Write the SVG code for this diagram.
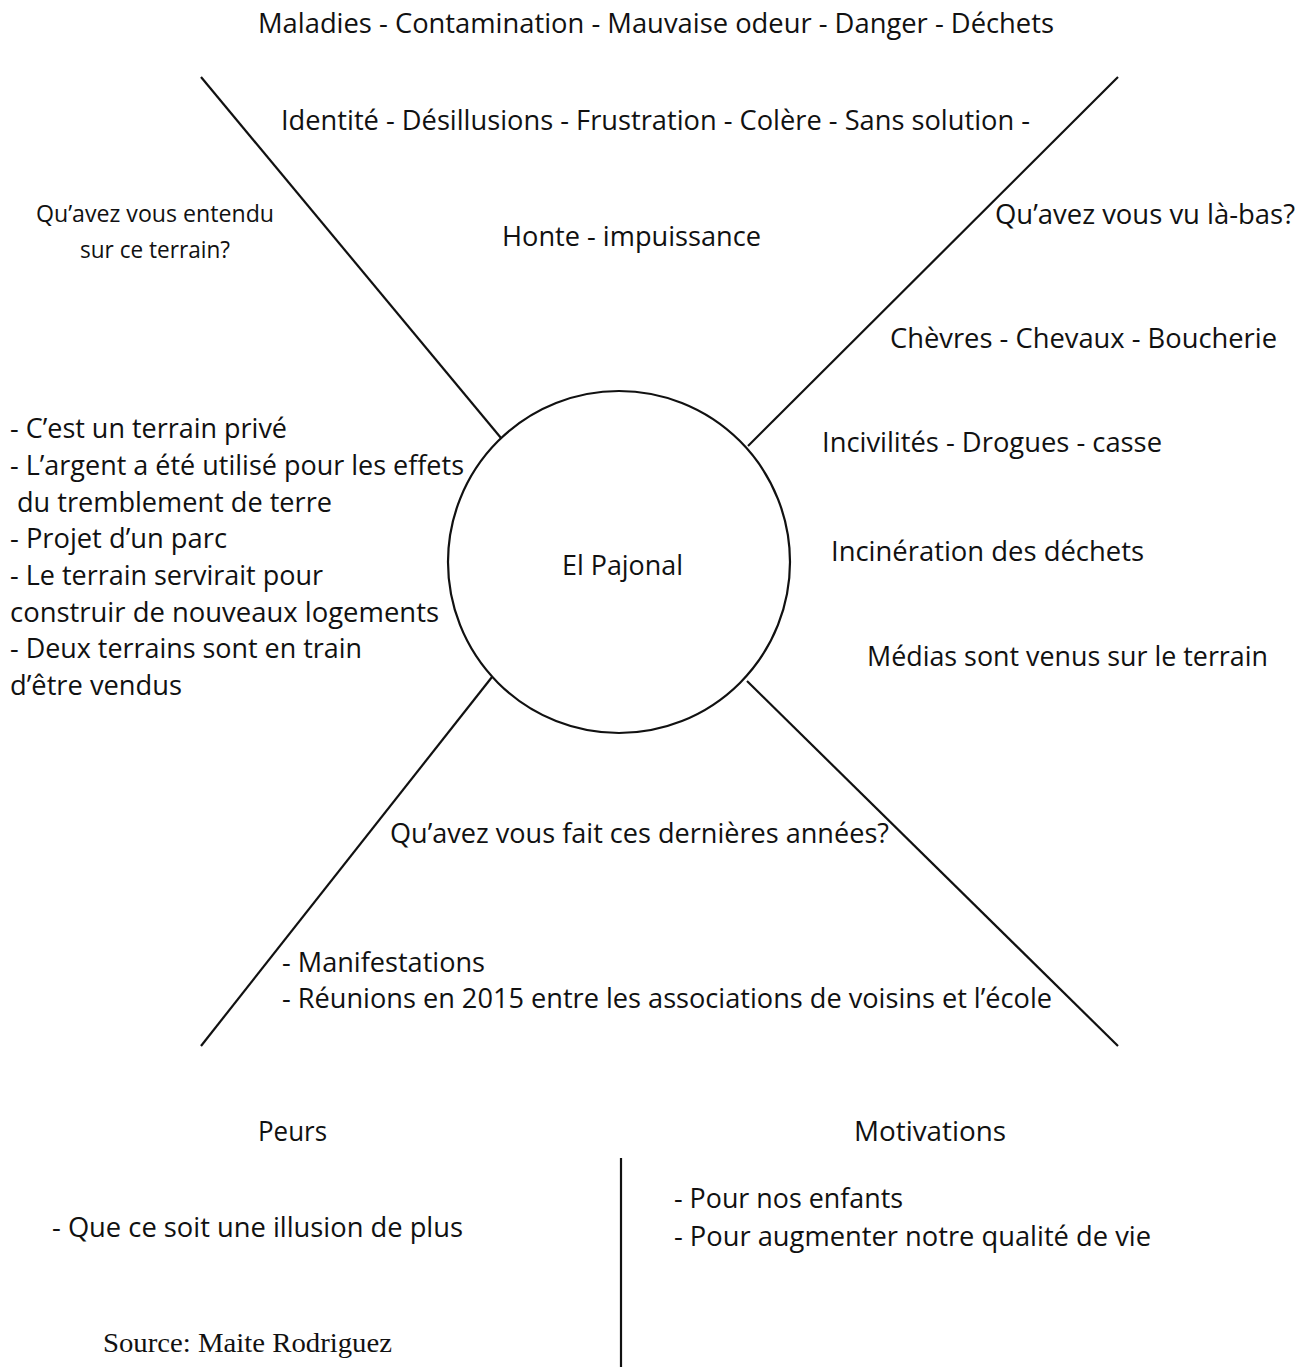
<svg xmlns="http://www.w3.org/2000/svg" width="1306" height="1367" viewBox="0 0 1306 1367">
<style>
.t{font-family:"Open Sans","Noto Sans","Liberation Sans",sans-serif;font-size:27px;fill:#111}
.s{font-size:24px}
.src{font-family:"Liberation Serif","Times New Roman",serif;font-size:27px;fill:#111}
.ln{stroke:#111;stroke-width:2.2;fill:none}
</style>
<rect width="1306" height="1367" fill="#fff"/>
<g id="connectors">
<line class="ln" x1="201" y1="77" x2="501" y2="438"/>
<line class="ln" x1="1118" y1="77" x2="748" y2="446"/>
<line class="ln" x1="201" y1="1046" x2="492" y2="677"/>
<line class="ln" x1="1118" y1="1046" x2="747" y2="681"/>
<line class="ln" x1="621" y1="1158" x2="621" y2="1367"/>
</g>
<g id="center">
<circle class="ln" cx="619" cy="562" r="171"/>
<text class="t" x="562" y="575" textLength="121" lengthAdjust="spacingAndGlyphs">El Pajonal</text>
</g>
<g id="top">
<text class="t" x="258" y="33" textLength="796" lengthAdjust="spacingAndGlyphs">Maladies - Contamination - Mauvaise odeur - Danger - Déchets</text>
<text class="t" x="281" y="130" textLength="749" lengthAdjust="spacingAndGlyphs">Identité - Désillusions - Frustration - Colère - Sans solution -</text>
<text class="t" x="502" y="246" textLength="259" lengthAdjust="spacingAndGlyphs">Honte - impuissance</text>
</g>
<g id="left">
<text class="t s" x="36" y="222" textLength="238" lengthAdjust="spacingAndGlyphs">Qu’avez vous entendu</text>
<text class="t s" x="80" y="258" textLength="150" lengthAdjust="spacingAndGlyphs">sur ce terrain?</text>
<text class="t" x="10" y="438" textLength="277" lengthAdjust="spacingAndGlyphs">- C’est un terrain privé</text>
<text class="t" x="10" y="475" textLength="454" lengthAdjust="spacingAndGlyphs">- L’argent a été utilisé pour les effets</text>
<text class="t" x="17" y="512" textLength="315" lengthAdjust="spacingAndGlyphs">du tremblement de terre</text>
<text class="t" x="10" y="548" textLength="217" lengthAdjust="spacingAndGlyphs">- Projet d’un parc</text>
<text class="t" x="10" y="585" textLength="313" lengthAdjust="spacingAndGlyphs">- Le terrain servirait pour</text>
<text class="t" x="10" y="622" textLength="429" lengthAdjust="spacingAndGlyphs">construir de nouveaux logements</text>
<text class="t" x="10" y="658" textLength="352" lengthAdjust="spacingAndGlyphs">- Deux terrains sont en train</text>
<text class="t" x="10" y="695" textLength="172" lengthAdjust="spacingAndGlyphs">d’être vendus</text>
</g>
<g id="right">
<text class="t" x="995" y="224" textLength="300" lengthAdjust="spacingAndGlyphs">Qu’avez vous vu là-bas?</text>
<text class="t" x="890" y="348" textLength="387" lengthAdjust="spacingAndGlyphs">Chèvres - Chevaux - Boucherie</text>
<text class="t" x="822" y="452" textLength="340" lengthAdjust="spacingAndGlyphs">Incivilités - Drogues - casse</text>
<text class="t" x="831" y="561" textLength="313" lengthAdjust="spacingAndGlyphs">Incinération des déchets</text>
<text class="t" x="867" y="666" textLength="401" lengthAdjust="spacingAndGlyphs">Médias sont venus sur le terrain</text>
</g>
<g id="bottom">
<text class="t" x="390" y="843" textLength="499" lengthAdjust="spacingAndGlyphs">Qu’avez vous fait ces dernières années?</text>
<text class="t" x="282" y="972" textLength="203" lengthAdjust="spacingAndGlyphs">- Manifestations</text>
<text class="t" x="282" y="1008" textLength="770" lengthAdjust="spacingAndGlyphs">- Réunions en 2015 entre les associations de voisins et l’école</text>
</g>
<g id="peurs">
<text class="t" x="258" y="1141" textLength="69" lengthAdjust="spacingAndGlyphs">Peurs</text>
<text class="t" x="52" y="1237" textLength="411" lengthAdjust="spacingAndGlyphs">- Que ce soit une illusion de plus</text>
</g>
<g id="motivations">
<text class="t" x="854" y="1141" textLength="152" lengthAdjust="spacingAndGlyphs">Motivations</text>
<text class="t" x="674" y="1208" textLength="229" lengthAdjust="spacingAndGlyphs">- Pour nos enfants</text>
<text class="t" x="674" y="1246" textLength="477" lengthAdjust="spacingAndGlyphs">- Pour augmenter notre qualité de vie</text>
</g>
<g id="source">
<text class="src" x="103" y="1352" textLength="289" lengthAdjust="spacingAndGlyphs">Source: Maite Rodriguez</text>
</g>
</svg>
